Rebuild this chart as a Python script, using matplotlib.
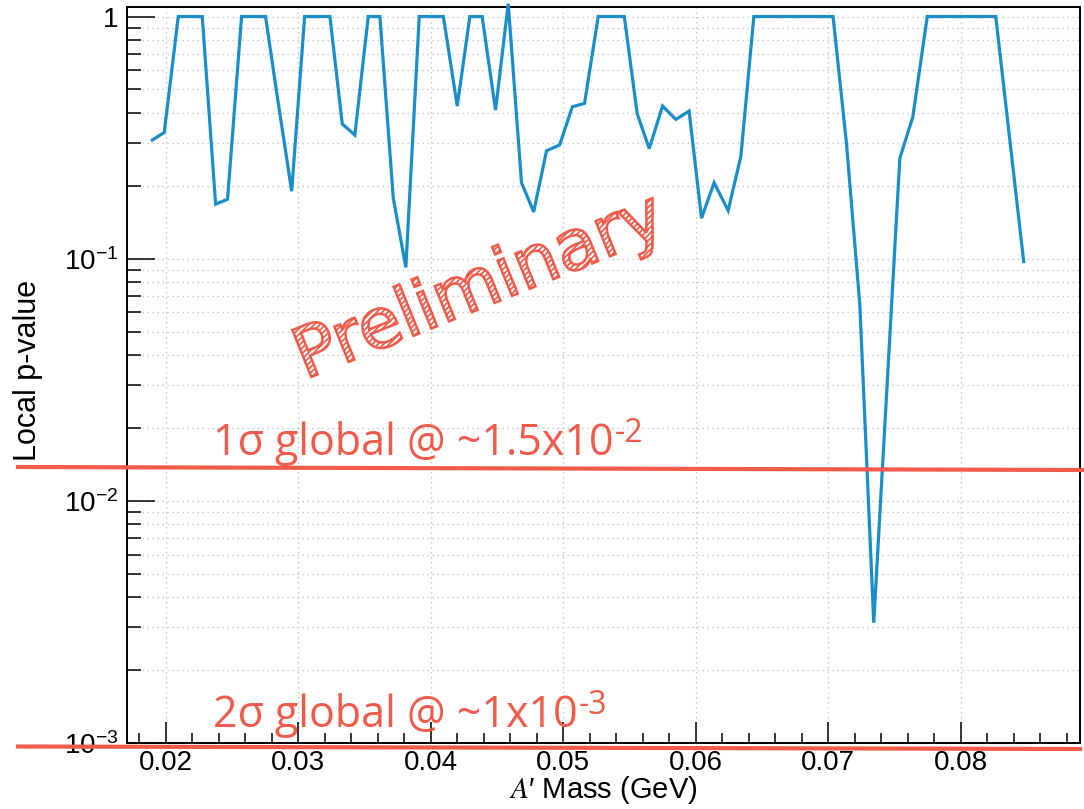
import matplotlib
matplotlib.use("Agg")
import matplotlib.pyplot as plt
import matplotlib.ticker as mticker
import matplotlib.patheffects as pe
from matplotlib.lines import Line2D

# ---------------- data ----------------
mass = [0.01897, 0.01987, 0.02093, 0.02274, 0.02375, 0.02465, 0.02571, 0.02752,
        0.02830, 0.02949, 0.03047, 0.03238, 0.03331, 0.03426, 0.03527, 0.03615,
        0.03716, 0.03811, 0.03912, 0.04094, 0.04199, 0.04294, 0.04387, 0.04488,
        0.04584, 0.04684, 0.04776, 0.04873, 0.04972, 0.05068, 0.05160, 0.05263,
        0.05460, 0.05557, 0.05648, 0.05749, 0.05849, 0.05949, 0.06043, 0.06138,
        0.06244, 0.06340, 0.06438, 0.07036, 0.07137, 0.07238, 0.07343, 0.07540,
        0.07638, 0.07747, 0.08264, 0.08475]
pvalue = [0.309, 0.332, 1.0, 1.0, 0.168, 0.176, 1.0, 1.0,
          0.51, 0.19, 1.0, 1.0, 0.36, 0.324, 1.0, 1.0,
          0.178, 0.092, 1.0, 1.0, 0.427, 1.0, 1.0, 0.411,
          1.13, 0.206, 0.156, 0.279, 0.295, 0.424, 0.438, 1.0,
          1.0, 0.398, 0.285, 0.427, 0.376, 0.407, 0.147, 0.206,
          0.158, 0.265, 1.0, 1.0, 0.30, 0.0645, 0.00314, 0.26,
          0.385, 1.0, 1.0, 0.0973]

x_major = [0.02, 0.03, 0.04, 0.05, 0.06, 0.07, 0.08]
x_labels = ["0.02", "0.03", "0.04", "0.05", "0.06", "0.07", "0.08"]
y_major = [1e-3, 1e-2, 1e-1, 1.0]
y_labels = [r"$\mathregular{10^{-3}}$", r"$\mathregular{10^{-2}}$",
            r"$\mathregular{10^{-1}}$", "1"]

line1_text = "1\u03c3 global @ ~1.5x10"
line1_sup = "-2"
line2_text = "2\u03c3 global @ ~1x10"
line2_sup = "-3"
watermark = "Preliminary"

# ---------------- style ----------------
plt.rcParams['font.family'] = ['Liberation Sans', 'DejaVu Sans']
plt.rcParams['mathtext.fontset'] = 'stix'
plt.rcParams['hatch.linewidth'] = 1.2

W, H = 1084, 809
BLUE = '#1A8DCB'
RED = '#F25A4A'

fig = plt.figure(figsize=(W / 100, H / 100), dpi=100)
ax = fig.add_axes([127 / W, 1 - 743 / H, (1080 - 127) / W, (743 - 7) / H])

ax.plot(mass, pvalue, color=BLUE, lw=2.3, solid_joinstyle='miter', clip_on=False, zorder=3)

ax.set_yscale('log')
ax.set_xlim(0.01706, 0.0890)
ax.set_ylim(1e-3, 1.095)

ax.xaxis.set_major_locator(mticker.FixedLocator(x_major))
ax.xaxis.set_major_formatter(mticker.FixedFormatter(x_labels))
ax.xaxis.set_minor_locator(mticker.MultipleLocator(0.002))
ax.yaxis.set_major_locator(mticker.FixedLocator(y_major))
ax.yaxis.set_major_formatter(mticker.FixedFormatter(y_labels))
ax.yaxis.set_minor_locator(mticker.LogLocator(base=10, subs=range(2, 10)))
ax.yaxis.set_minor_formatter(mticker.NullFormatter())

ax.tick_params(axis='x', which='major', direction='in', length=15, width=1.1, labelsize=20, pad=5)
ax.tick_params(axis='x', which='minor', direction='in', length=7.5, width=1.1)
ax.tick_params(axis='y', which='major', direction='in', length=20, width=1.1, labelsize=20, pad=6)
ax.tick_params(axis='y', which='minor', direction='in', length=10, width=1.1)
for s in ax.spines.values():
    s.set_linewidth(1.4)

gridstyle = dict(color='#c4c4c4', lw=1.0, linestyle=(0, (1, 2.6)))
ax.grid(True, which='major', axis='x', **gridstyle)
ax.grid(True, which='both', axis='y', **gridstyle)
ax.set_axisbelow(True)

ax.set_xlabel("$A$\u2032 Mass (GeV)", fontsize=21)
ax.xaxis.set_label_coords(0.5, -0.042)
ax.set_ylabel("Local p-value", fontsize=22)
ax.yaxis.set_label_coords((13 - 127) / 953, (743 - 370) / 736)
ax.yaxis.label.set_rotation_mode('default')
ax.yaxis.label.set_ha('left')
ax.yaxis.label.set_va('center')

# ---------------- overlays (figure pixel coords) ----------------
def fx(px):
    return px / W

def fy(py):
    return 1 - py / H

fig.add_artist(Line2D([fx(18), fx(1084)], [fy(467), fy(470)], color=RED, lw=3.0, zorder=10))
fig.add_artist(Line2D([fx(18), fx(1080)], [fy(746.5), fy(749)], color=RED, lw=3.0, zorder=10))

tfont = ['Open Sans', 'DejaVu Sans']
t1 = fig.text(fx(213), fy(455), line1_text, color=RED, fontsize=31, family=tfont,
              ha='left', va='baseline', zorder=11)
t2 = fig.text(fx(213), fy(727), line2_text, color=RED, fontsize=31, family=tfont,
              ha='left', va='baseline', zorder=11)
fig.canvas.draw()
inv = fig.transFigure.inverted()
for t, sup in ((t1, line1_sup), (t2, line2_sup)):
    bb = t.get_window_extent()
    x1 = inv.transform((bb.x1 + 1, 0))[0]
    y0 = t.get_position()[1] + 13 / H
    fig.text(x1, y0, sup, color=RED, fontsize=23, family=tfont,
             ha='left', va='baseline', zorder=11)

fig.text(fx(487), fy(306), watermark, fontsize=50, family=['DejaVu Sans'],
         rotation=22, rotation_mode='anchor', ha='center', va='baseline',
         color='white', zorder=12,
         path_effects=[pe.PathPatchEffect(edgecolor=RED, facecolor='white',
                                          hatch='//////', linewidth=1.8)])

fig.savefig('out.png', dpi=100)
